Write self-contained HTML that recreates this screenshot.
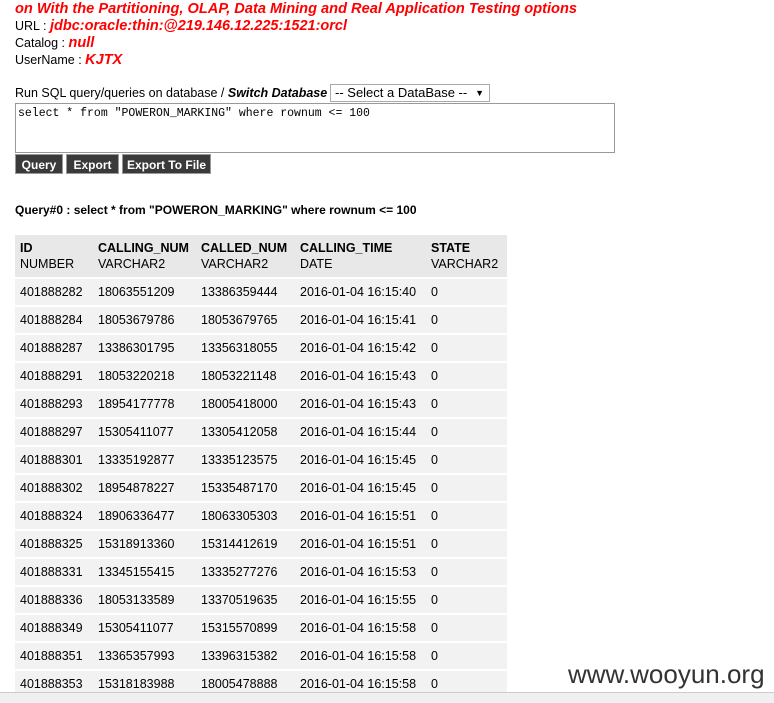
<!DOCTYPE html>
<html><head><meta charset="utf-8"><style>
body{margin:0;width:774px;height:702px;overflow:hidden;background:#fff;font-family:"Liberation Sans",sans-serif;font-size:12.5px;color:#000;position:relative}
.r{color:#f00;font-weight:bold;font-style:italic;font-size:14.5px}
.ln{position:absolute;left:15px;white-space:nowrap}
table{position:absolute;left:15px;top:235px;border-collapse:collapse;width:492px;font-size:12.5px}
th{background:#e8e8e8;text-align:left;font-weight:normal;padding:0 5px;height:42px;line-height:16px;vertical-align:middle}
th b{font-weight:bold}
td{background:#f2f2f2;padding:0 5px;height:26px;border-top:2px solid #fff;white-space:nowrap}
.btn{position:absolute;top:154px;height:20px;background:#3a3a3a;color:#fff;font-weight:bold;font-size:12px;line-height:20px;text-align:center;border:1px solid #999;box-sizing:border-box}
</style></head><body>
<div class="ln r" style="top:1px;font-size:14.6px">on With the Partitioning, OLAP, Data Mining and Real Application Testing options</div>
<div class="ln" style="top:18px">URL : <span class="r">jdbc:oracle:thin:@219.146.12.225:1521:orcl</span></div>
<div class="ln" style="top:35px">Catalog : <span class="r">null</span></div>
<div class="ln" style="top:52px">UserName : <span class="r">KJTX</span></div>
<div class="ln" style="top:86px">Run SQL query/queries on database / <b><i>Switch Database :</i></b></div>
<div style="position:absolute;left:330px;top:84px;width:160px;height:18px;border:1px solid #aaa;box-sizing:border-box;font-size:13px;line-height:16px;padding-left:4px;white-space:nowrap;background:#fff">-- Select a DataBase -- <span style="position:absolute;right:5px;top:0;font-size:9px">▼</span></div>
<div style="position:absolute;left:15px;top:103px;width:600px;height:50px;border:1px solid #999;box-sizing:border-box;font-family:'Liberation Mono',monospace;font-size:11.5px;padding:3px 2px">select * from "POWERON_MARKING" where rownum &lt;= 100</div>
<div class="btn" style="left:15px;width:48px">Query</div>
<div class="btn" style="left:66px;width:53px">Export</div>
<div class="btn" style="left:122px;width:89px">Export To File</div>
<div class="ln" style="top:203px;font-weight:bold;font-size:12px">Query#0 : select * from "POWERON_MARKING" where rownum &lt;= 100</div>
<table>
<tr><th style="width:68px"><b>ID</b><br>NUMBER</th><th style="width:93px"><b>CALLING_NUM</b><br>VARCHAR2</th><th style="width:89px"><b>CALLED_NUM</b><br>VARCHAR2</th><th style="width:121px"><b>CALLING_TIME</b><br>DATE</th><th><b>STATE</b><br>VARCHAR2</th></tr>
<tbody id="tb"></tbody>
</table>
<div style="position:absolute;left:568px;top:659px;font-size:26px;color:#333">www.wooyun.org</div>
<div style="position:absolute;left:0;top:692px;width:774px;height:10px;background:#f0f0f0;border-top:1px solid #ccc"></div>
<script>
const ids=["401888282","401888284","401888287","401888291","401888293","401888297","401888301","401888302","401888324","401888325","401888331","401888336","401888349","401888351","401888353"];
const callings=["18063551209","18053679786","13386301795","18053220218","18954177778","15305411077","13335192877","18954878227","18906336477","15318913360","13345155415","18053133589","15305411077","13365357993","15318183988"];
const calleds=["13386359444","18053679765","13356318055","18053221148","18005418000","13305412058","13335123575","15335487170","18063305303","15314412619","13335277276","13370519635","15315570899","13396315382","18005478888"];
const times=["16:15:40","16:15:41","16:15:42","16:15:43","16:15:43","16:15:44","16:15:45","16:15:45","16:15:51","16:15:51","16:15:53","16:15:55","16:15:58","16:15:58","16:15:58"];
const tb=document.getElementById('tb');
ids.forEach((id,i)=>{
const tr=document.createElement('tr');


[id,callings[i],calleds[i],'2016-01-04 '+times[i],'0'].forEach(v=>{const td=document.createElement('td');td.textContent=v;tr.appendChild(td);});
tb.appendChild(tr);
});
</script>
</body></html>
